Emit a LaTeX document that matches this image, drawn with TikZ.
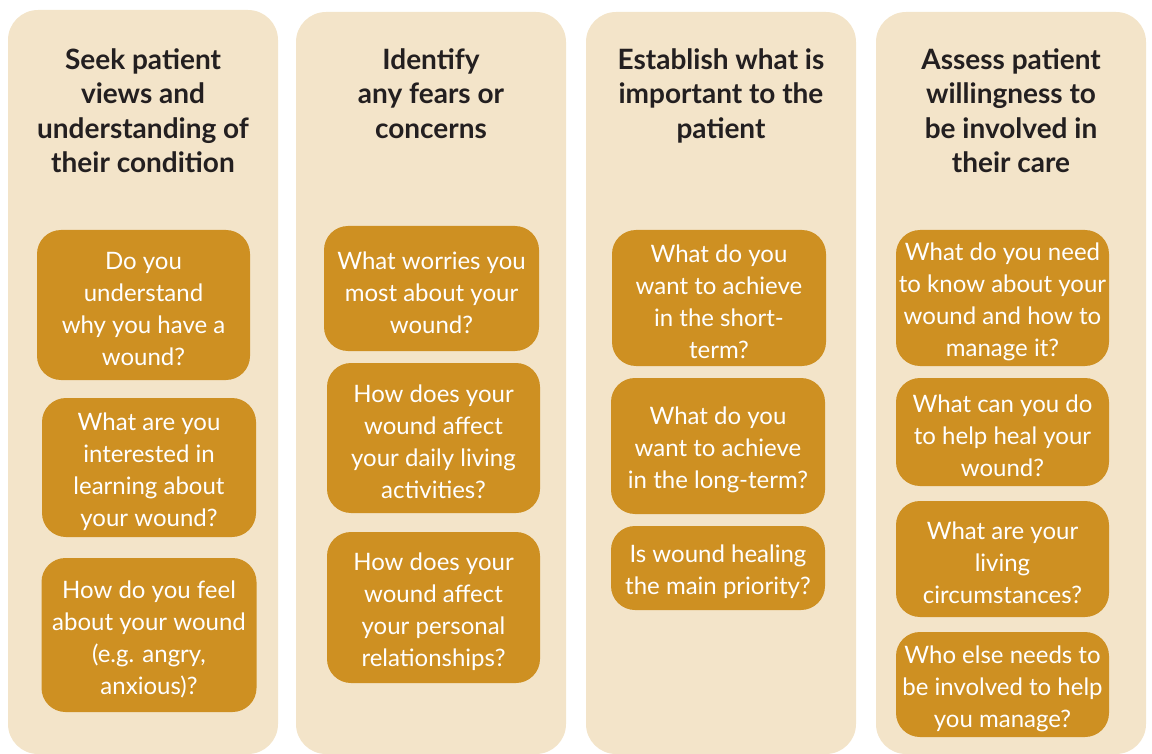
\documentclass[tikz,border=0pt]{standalone}
\usepackage{fontspec}
\setmainfont{Lato}
\definecolor{beige}{HTML}{F3E4C9}
\definecolor{boxc}{HTML}{CE9022}
\definecolor{headc}{HTML}{231F20}
\begin{document}
\begin{tikzpicture}[x=1pt,y=-1pt,
  colbox/.style={fill=beige, rounded corners=30pt, minimum width=270pt, inner sep=0pt},
  head/.style={text=headc, align=center, font=\bfseries\fontsize{28}{34.5}\selectfont, inner sep=0pt, anchor=north},
  qbox/.style={fill=boxc, rounded corners=24pt, inner sep=0pt},
  qtext/.style={text=white, align=center, font=\fontsize{24}{32}\selectfont, inner sep=0pt, yshift=-4pt}]
\useasboundingbox (0,0) rectangle (1152,754);
% columns
\node[colbox, minimum height=744pt] (c1) at (143,382) {};
\node[colbox, minimum height=742pt] (c2) at (431,383) {};
\node[colbox, minimum height=742pt] (c3) at (721,383) {};
\node[colbox, minimum height=742pt] (c4) at (1011,383) {};
% headings
\node[head] (h1) at (143,48) {Seek patient\\views and\\understanding of\\their condition};
\node[head] (h2) at (431,48) {Identify\\any fears or\\concerns};
\node[head] (h3) at (721,48) {Establish what is\\important to the\\patient};
\node[head] (h4) at (1011,48) {Assess patient\\willingness to\\be involved in\\their care};
% column 1
\node[qbox, minimum width=213pt, minimum height=150pt] (a1) at (143.5,305) {};
\node[qtext] (a1t) at (a1.center) {Do you\\understand\\why you have a\\wound?};
\node[qbox, minimum width=214pt, minimum height=139pt] (a2) at (149,467.5) {};
\node[qtext] (a2t) at (a2.center) {What are you\\interested in\\learning about\\your wound?};
\node[qbox, minimum width=215pt, minimum height=154pt] (a3) at (149,635) {};
\node[qtext] (a3t) at (a3.center) {How do you feel\\about your wound\\(e.g. angry,\\anxious)?};
% column 2
\node[qbox, minimum width=215pt, minimum height=125pt] (b1) at (431.5,288.5) {};
\node[qtext] (b1t) at (b1.center) {What worries you\\most about your\\wound?};
\node[qbox, minimum width=213pt, minimum height=150pt] (b2) at (433.5,438) {};
\node[qtext] (b2t) at (b2.center) {How does your\\wound affect\\your daily living\\activities?};
\node[qbox, minimum width=213pt, minimum height=151pt] (b3) at (433.5,607.5) {};
\node[qtext] (b3t) at (b3.center) {How does your\\wound affect\\your personal\\relationships?};
% column 3
\node[qbox, minimum width=214pt, minimum height=136pt] (d1) at (719,298) {};
\node[qtext] (d1t) at (d1.center) {What do you\\want to achieve\\in the short-\\term?};
\node[qbox, minimum width=214pt, minimum height=136pt] (d2) at (718,446) {};
\node[qtext] (d2t) at (d2.center) {What do you\\want to achieve\\in the long-term?};
\node[qbox, minimum width=214pt, minimum height=84pt] (d3) at (718,568) {};
\node[qtext] (d3t) at (d3.center) {Is wound healing\\the main priority?};
% column 4
\node[qbox, minimum width=213pt, minimum height=136pt] (e1) at (1002.5,298) {};
\node[qtext] (e1t) at (e1.center) {What do you need\\to know about your\\wound and how to\\manage it?};
\node[qbox, minimum width=213pt, minimum height=108pt] (e2) at (1002.5,432) {};
\node[qtext] (e2t) at (e2.center) {What can you do\\to help heal your\\wound?};
\node[qbox, minimum width=213pt, minimum height=116pt] (e3) at (1002.5,559) {};
\node[qtext] (e3t) at (e3.center) {What are your\\living\\circumstances?};
\node[qbox, minimum width=213pt, minimum height=105pt] (e4) at (1002.5,684.5) {};
\node[qtext] (e4t) at (e4.center) {Who else needs to\\be involved to help\\you manage?};
\end{tikzpicture}
\end{document}
